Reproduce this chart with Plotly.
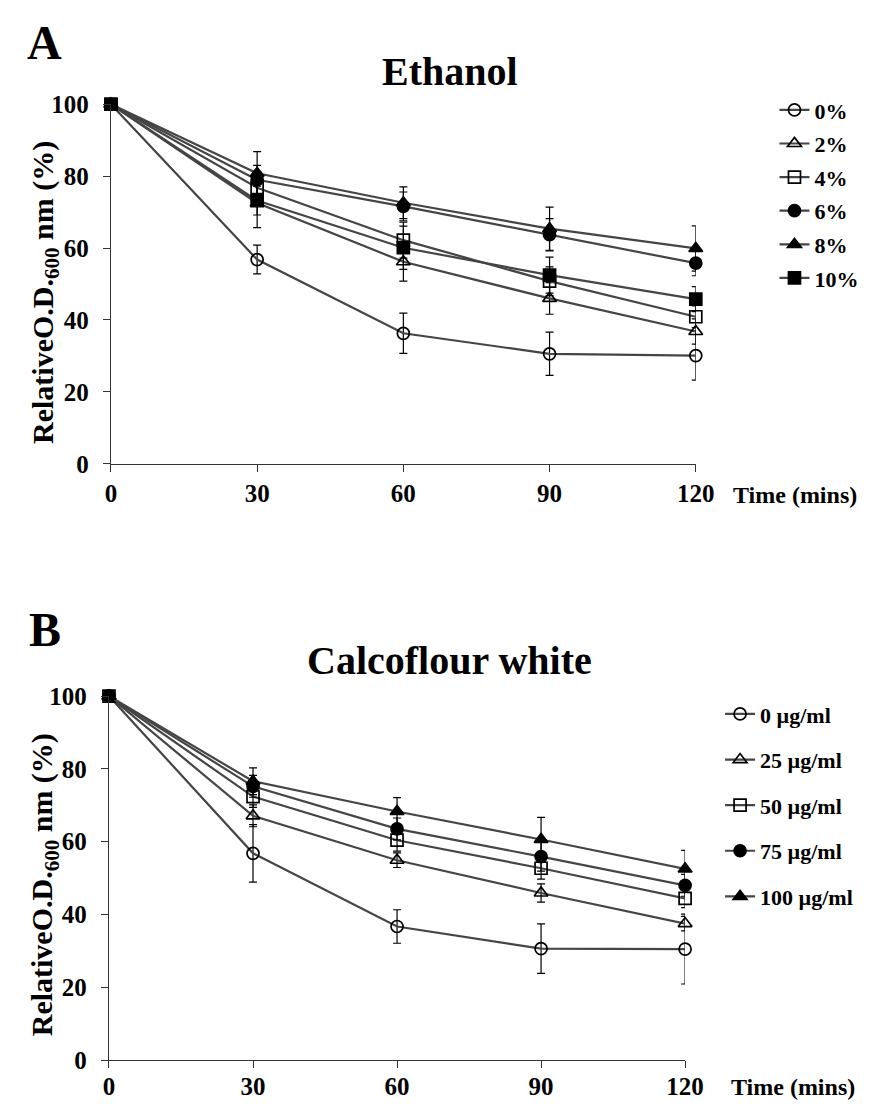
import plotly.graph_objects as go

# Sampling times (min)
time_min = [0, 30, 60, 90, 120]

# Panel A: ethanol concentrations
eth_labels = ["0%", "2%", "4%", "6%", "8%", "10%"]
eth_0 = [100, 56.8, 36.3, 30.6, 30.1]
eth_2 = [100, 72.5, 56.2, 46.0, 36.8]
eth_4 = [100, 76.8, 62.2, 50.8, 40.9]
eth_6 = [100, 79.0, 71.6, 63.7, 55.8]
eth_8 = [100, 80.8, 72.6, 65.4, 59.9]
eth_10 = [100, 73.2, 60.1, 52.5, 45.8]
eth_0_err = [0, 4.0, 5.6, 6.0, 6.8]
eth_2_err = [0, 6.8, 5.4, 4.4, 3.5]
eth_4_err = [0, 4.5, 5.0, 4.0, 3.0]
eth_6_err = [0, 4.0, 4.0, 4.5, 3.5]
eth_8_err = [0, 6.0, 4.4, 6.0, 6.3]
eth_10_err = [0, 4.0, 6.0, 5.0, 3.5]

# Panel B: calcofluor white concentrations
cfw_labels = ["0 µg/ml", "25 µg/ml", "50 µg/ml", "75 µg/ml", "100 µg/ml"]
cfw_0 = [100, 56.8, 36.7, 30.6, 30.5]
cfw_25 = [100, 67.1, 54.9, 45.9, 37.5]
cfw_50 = [100, 72.4, 60.4, 52.7, 44.4]
cfw_75 = [100, 75.2, 63.5, 55.9, 48.0]
cfw_100 = [100, 76.6, 68.3, 60.6, 52.5]
cfw_0_err = [0, 7.9, 4.6, 6.8, 9.6]
cfw_25_err = [0, 3.0, 2.0, 2.5, 2.0]
cfw_50_err = [0, 3.0, 3.0, 3.0, 2.5]
cfw_75_err = [0, 3.0, 3.0, 4.0, 3.0]
cfw_100_err = [0, 3.7, 3.8, 6.1, 5.1]

x_ticks = [0, 30, 60, 90, 120]
y_ticks = [0, 20, 40, 60, 80, 100]

W, H = 878, 1117
FONT = "Liberation Serif"
LINE_COL = "#454545"

eth_series = [eth_0, eth_2, eth_4, eth_6, eth_8, eth_10]
eth_errs = [eth_0_err, eth_2_err, eth_4_err, eth_6_err, eth_8_err, eth_10_err]
eth_symbols = ["circle-open", "triangle-up-open", "square-open",
               "circle", "triangle-up", "square"]

cfw_series = [cfw_0, cfw_25, cfw_50, cfw_75, cfw_100]
cfw_errs = [cfw_0_err, cfw_25_err, cfw_50_err, cfw_75_err, cfw_100_err]
cfw_symbols = ["circle-open", "triangle-up-open", "square-open",
               "circle", "triangle-up"]


def px_x(p):
    return p / W


def px_y(p):
    return 1 - p / H


fig = go.Figure()


def add_series(name, y, err, symbol, xa, ya, legend, group):
    fig.add_trace(go.Scatter(
        x=time_min, y=y, name=name, mode="lines+markers",
        xaxis=xa, yaxis=ya, legend=legend, legendgroup=group,
        line=dict(color=LINE_COL, width=2.2),
        marker=dict(symbol=symbol, size=12, color="black",
                    line=dict(color="black", width=1.7)),
        error_y=dict(type="data", array=err, visible=True,
                     color="black", thickness=1.2, width=4),
        cliponaxis=False,
    ))


for i, (lab, ys, er, sym) in enumerate(zip(eth_labels, eth_series, eth_errs, eth_symbols)):
    add_series(lab, ys, er, sym, "x", "y", "legend", f"a{i}")
for i, (lab, ys, er, sym) in enumerate(zip(cfw_labels, cfw_series, cfw_errs, cfw_symbols)):
    add_series(lab, ys, er, sym, "x2", "y2", "legend2", f"b{i}")

tick_font = dict(family=FONT, size=25, color="black", weight="bold")
axis_common = dict(showline=True, linecolor="#333", linewidth=1.3,
                   showgrid=False, zeroline=False, ticks="outside",
                   tickcolor="#333", tickfont=tick_font)

legend_font = dict(family=FONT, size=22, color="black", weight="bold")

fig.update_layout(
    width=W, height=H,
    margin=dict(l=0, r=0, t=0, b=0),
    paper_bgcolor="white", plot_bgcolor="white",
    showlegend=True,
    xaxis=dict(domain=[px_x(108), px_x(710)], range=[0, 120], anchor="y",
               tickvals=x_ticks, ticklen=7, ticklabelstandoff=0, **axis_common),
    yaxis=dict(domain=[px_y(462), px_y(93.5)], range=[0, 100], anchor="x",
               tickvals=y_ticks, ticklen=7, ticklabelstandoff=9, **axis_common),
    xaxis2=dict(domain=[px_x(106), px_x(699)], range=[0, 120], anchor="y2",
                tickvals=x_ticks, ticklen=7, ticklabelstandoff=-3, **axis_common),
    yaxis2=dict(domain=[px_y(1073), px_y(700)], range=[0, 100], anchor="x2",
                tickvals=y_ticks, ticklen=7, ticklabelstandoff=9, **axis_common),
    legend=dict(x=px_x(791), y=px_y(78), xanchor="left", yanchor="top",
                traceorder="grouped", tracegroupgap=2, itemwidth=30,
                font=legend_font, bgcolor="rgba(0,0,0,0)"),
    legend2=dict(x=px_x(735), y=px_y(697), xanchor="left", yanchor="top",
                 traceorder="grouped", tracegroupgap=14, itemwidth=30,
                 font=legend_font, bgcolor="rgba(0,0,0,0)"),
)


def ann_font(s):
    return dict(family=FONT, size=s, color="black", weight="bold")


ylab = "RelativeO.D.<sub>600</sub> nm (%)"

annotations = [
    dict(text="A", x=px_x(40), y=px_y(30), font=ann_font(48)),
    dict(text="B", x=px_x(40), y=px_y(632), font=ann_font(48)),
    dict(text="Ethanol", x=px_x(457), y=px_y(60), font=ann_font(40)),
    dict(text="Calcoflour white", x=px_x(457), y=px_y(664), font=ann_font(40)),
    dict(text=ylab, x=px_x(40), y=px_y(286), textangle=-90, font=ann_font(30)),
    dict(text=ylab, x=px_x(40), y=px_y(893), textangle=-90, font=ann_font(30)),
    dict(text="Time (mins)", x=px_x(812), y=px_y(494), font=ann_font(24)),
    dict(text="Time (mins)", x=px_x(810), y=px_y(1101), font=ann_font(24)),
]
for a in annotations:
    fig.add_annotation(xref="paper", yref="paper", showarrow=False,
                       xanchor="center", yanchor="middle", **a)

# Drop the page's default body margin so the figure fills the window.
page_css = ("document.body.style.margin='0';"
            "document.documentElement.style.overflow='hidden';"
            "document.body.style.overflow='hidden';")

fig.write_html("out.html", post_script=page_css)
